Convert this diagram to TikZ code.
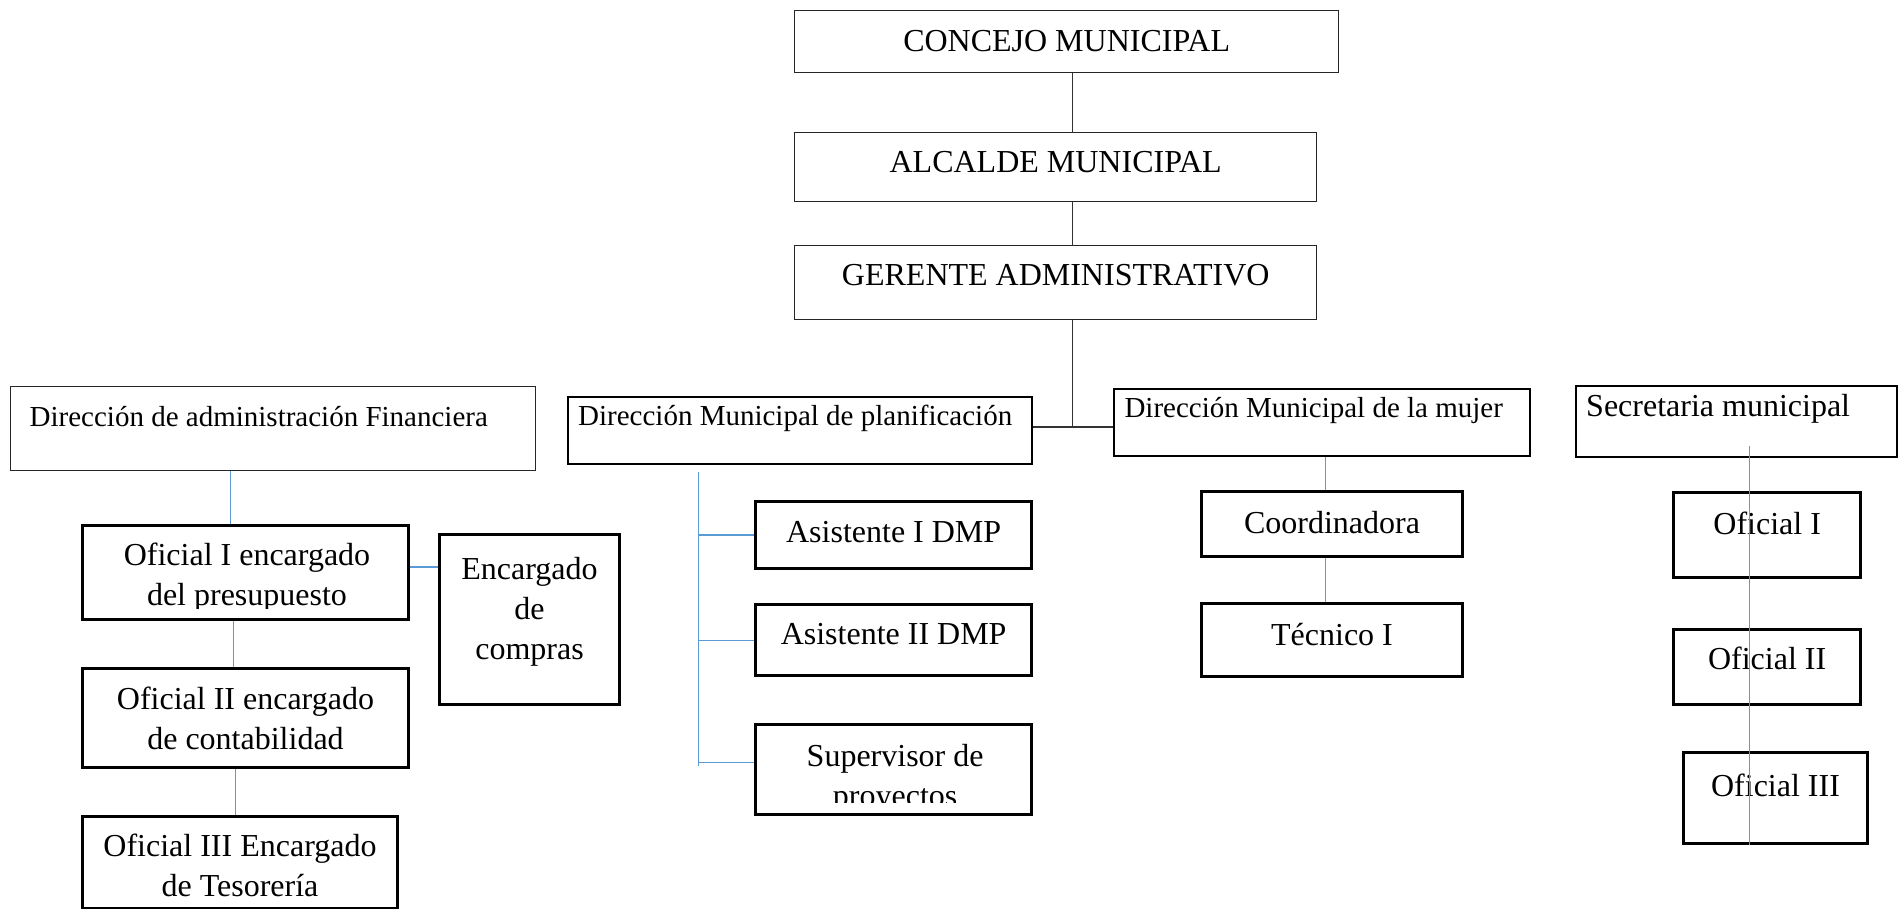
\documentclass[tikz,border=0pt]{standalone}
\usepackage{fontspec}
\setmainfont{Liberation Serif}
\newcommand\boxtext[4]{\parbox[c][#2pt][t]{#1pt}{\vspace*{#3pt}#4\par}}
\definecolor{linkblue}{RGB}{91,155,213}
\begin{document}
\begin{tikzpicture}[x=1pt,y=-1pt,
  thinbox/.style={draw=black!85, line width=1.4pt, inner sep=0pt, anchor=north west},
  midbox/.style={draw=black, line width=2.4pt, inner sep=0pt, anchor=north west},
  thickbox/.style={draw=black, line width=3pt, inner sep=0pt, anchor=north west},
  tx32/.style={font=\fontsize{32}{40}\selectfont},
  tx29/.style={font=\fontsize{29}{36}\selectfont},
  conn/.style={draw=black!80, line width=1.8pt},
  blueconn/.style={draw=linkblue, line width=1.4pt}]
\useasboundingbox (0,0) rectangle (1898,908);

% top chain
\node[thinbox, tx32] (concejo) at (794,10) {\boxtext{544}{62}{12.7}{\centering\strut CONCEJO MUNICIPAL}};
\node[thinbox, tx32] (alcalde) at (794,132) {\boxtext{522}{69}{12}{\centering\strut ALCALDE MUNICIPAL}};
\node[thinbox, tx32] (gerente) at (794,245) {\boxtext{522}{74}{12}{\centering\strut GERENTE ADMINISTRATIVO}};

% directions
\node[thinbox, tx29] (fin) at (9.5,385.5) {\boxtext{525}{84}{15.3}{\raggedright\hspace*{19.5pt}\strut Dirección de administración Financiera}};
\node[midbox, tx29] (plan) at (566.5,395.5) {\boxtext{464}{67}{3.3}{\raggedright\hspace*{10.5pt}\strut Dirección Municipal de planificación}};
\node[midbox, tx29] (mujer) at (1113,388) {\boxtext{415.5}{67}{3.5}{\raggedright\hspace*{10.3pt}\strut Dirección Municipal de la mujer}};
\node[midbox, tx32] (secre) at (1575,384.5) {\boxtext{320.5}{71.5}{2.5}{\raggedright\hspace*{10pt}\strut Secretaria municipal}};

% financial column
\node[thickbox, minimum width=326pt, minimum height=94.5pt,
  path picture={\clip (path picture bounding box.north west) rectangle ([yshift=11pt]path picture bounding box.south east);
    \node[anchor=north west, inner sep=0pt, tx32] (of1t) at (path picture bounding box.north west)
      {\boxtext{326}{94.5}{10.5}{\centering\strut Oficial I encargado\\del presupuesto}};}] (of1) at (81,523.5) {};
\node[thickbox, tx32] (compras) at (438,532.5) {\boxtext{180}{170.5}{17.5}{\centering\strut Encargado\\de\\compras}};
\node[thickbox, tx32] (of2) at (81,667) {\boxtext{326}{99}{13}{\centering\strut Oficial II encargado\\de contabilidad}};
\node[thickbox, tx32] (of3) at (81,814.5) {\boxtext{315}{92}{12.5}{\centering\strut Oficial III Encargado\\de Tesorería}};

% planning column
\node[thickbox, tx32] (as1) at (754.3,500) {\boxtext{275.7}{66.7}{13}{\centering\strut Asistente I DMP}};
\node[thickbox, tx32] (as2) at (754.3,603.3) {\boxtext{275.7}{71}{12}{\centering\strut Asistente II DMP}};
\node[thickbox, minimum width=275.7pt, minimum height=90.6pt,
  path picture={\clip (path picture bounding box.north west) rectangle ([yshift=12.3pt]path picture bounding box.south east);
    \node[anchor=north west, inner sep=0pt, tx32] (supt) at (path picture bounding box.north west)
      {\boxtext{275.7}{90.6}{13}{\centering\strut Supervisor de\\proyectos}};}] (sup) at (754.3,722.7) {};

% women column
\node[thickbox, tx32] (coord) at (1200,490) {\boxtext{261}{65}{14.3}{\centering\strut Coordinadora}};
\node[thickbox, tx32] (tec) at (1200,602.3) {\boxtext{261}{72.7}{13.2}{\centering\strut Técnico I}};

% secretary column
\node[thickbox, tx32] (of1s) at (1672.3,490.7) {\boxtext{186.7}{85.6}{14}{\centering\strut Oficial I}};
\node[thickbox, tx32] (of2s) at (1672.3,627.7) {\boxtext{186.7}{75}{12.6}{\centering\strut Oficial II}};
\node[thickbox, tx32] (of3s) at (1681.7,751) {\boxtext{184.6}{90.7}{16}{\centering\strut Oficial III}};

% black connectors
\coordinate (spine) at (1072.5,0);
\coordinate (hjoin) at (1072.5,426.7);
\draw[conn] (concejo.south -| spine) -- (alcalde.north -| spine);
\draw[conn] (alcalde.south -| spine) -- (gerente.north -| spine);
\draw[conn] (gerente.south -| spine) -- (hjoin);
\draw[conn] (plan.east |- hjoin) -- (mujer.west |- hjoin);

% blue connectors, financial
\coordinate (fx1) at (230.6,0);
\coordinate (fx2) at (233.5,0);
\coordinate (fx3) at (235.5,0);
\coordinate (cy) at (0,567);
\draw[blueconn] (fin.south -| fx1) -- (of1.north -| fx1);
\draw[blueconn] (of1.south -| fx2) -- (of2.north -| fx2);
\draw[blueconn] (of2.south -| fx3) -- (of3.north -| fx3);
\draw[blueconn] (of1.east |- cy) -- (compras.west |- cy);

% blue connectors, planning
\coordinate (px) at (698.3,0);
\coordinate (sy) at (0,762.7);
\draw[blueconn, shorten <=7.5pt, shorten >=3.7pt] (plan.south -| px) -- (px |- sup.west);
\draw[blueconn] (px |- as1.west) -- (as1.west);
\draw[blueconn] (px |- as2.west) -- (as2.west);
\draw[blueconn] (px |- sy) -- (sup.west |- sy);

% blue connectors, women
\coordinate (mx) at (1325.5,0);
\draw[blueconn] (mujer.south -| mx) -- (coord.north -| mx);
\draw[blueconn] (coord.south -| mx) -- (tec.north -| mx);

% blue connector, secretary (drawn over the boxes)
\coordinate (sx) at (1749.3,0);
\draw[blueconn, shorten <=-12pt] (secre.south -| sx) -- (of3s.south -| sx);
\end{tikzpicture}
\end{document}
